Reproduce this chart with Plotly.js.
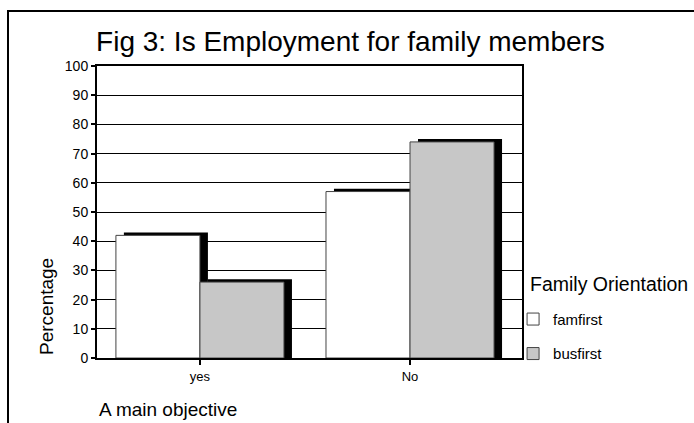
<!DOCTYPE html>
<html><head><meta charset="utf-8">
<script src="https://cdn.plot.ly/plotly-3.0.1.min.js"></script>
<style>
html,body{margin:0;padding:0;background:#fff;}
#wrap{position:relative;width:694px;height:423px;overflow:hidden;}
#frame{position:absolute;left:7px;top:10px;width:800px;height:600px;border-left:2px solid #000;border-top:2px solid #000;pointer-events:none;}
#chart{position:absolute;left:0;top:0;width:694px;height:423px;}
</style></head>
<body><div id="wrap"><div id="chart"></div><div id="frame"></div></div>
<script>
const categories = ['yes', 'No'];
const famfirst = [42, 57];
const busfirst = [26, 74];
const seriesNames = ['famfirst', 'busfirst'];
const yTicks = [0,10,20,30,40,50,60,70,80,90,100];

const F = 'Liberation Sans, Arial, sans-serif';
const barW = 0.4, shOff = 0.038, shLift = 1;
const lineStyle = {color:'#444', width:1};

const shadow = (vals, off) => ({
  type:'bar', x:categories, y:vals.map(v=>v+shLift), width:barW, offset:off+shOff,
  marker:{color:'#000', line:{width:0}}, showlegend:false, hoverinfo:'skip'
});
const traces = [
  shadow(famfirst, -barW),
  shadow(busfirst, 0),
  {type:'bar', name:seriesNames[0], x:categories, y:famfirst, width:barW, offset:-barW,
   marker:{color:'#fff', line:lineStyle}, legendgroup:'a'},
  {type:'bar', name:seriesNames[1], x:categories, y:busfirst, width:barW, offset:0,
   marker:{color:'#fff', line:lineStyle, pattern:{shape:'.', fgcolor:'#808080', bgcolor:'#fff', size:2, solidity:0.5}}, legendgroup:'b'}
];

const layout = {
  width:694, height:423,
  margin:{l:97, r:172, t:66, b:65},
  paper_bgcolor:'#fff', plot_bgcolor:'#fff',
  barmode:'overlay',
  font:{family:F, color:'#000', size:13},
  title:{text:'Fig 3: Is Employment for family members', font:{family:F, size:28, color:'#000'},
         x:0.505, xref:'container', xanchor:'center', y:0.903, yref:'container', yanchor:'middle'},
  xaxis:{type:'category', range:[-0.49, 1.533], showline:true, linecolor:'#000', linewidth:2,
         mirror:true, ticks:'outside', ticklen:5, tickcolor:'#000', tickwidth:2,
         showgrid:false, tickfont:{family:F, size:13}, fixedrange:true},
  yaxis:{range:[0,100], tickvals:yTicks, ticktext:yTicks.map(String), showline:true, linecolor:'#000', linewidth:2,
         mirror:true, ticks:'outside', ticklen:4, tickcolor:'#000', tickwidth:2,
         showgrid:true, gridcolor:'#000', gridwidth:1, zeroline:false,
         tickfont:{family:F, size:14}, fixedrange:true},
  showlegend:true,
  legend:{x:0.979, xanchor:'left', y:0.189, yanchor:'top', xref:'paper', yref:'paper',
          font:{family:F, size:15}, tracegroupgap:12, bgcolor:'rgba(0,0,0,0)', itemwidth:30},
  annotations:[
    {text:'Family Orientation', xref:'paper', yref:'paper', x:1.0141, y:0.2534, xanchor:'left', yanchor:'middle',
     showarrow:false, font:{family:F, size:19.5}},
    {text:'Percentage', xref:'paper', yref:'paper', x:-0.1176, y:0.1747, textangle:-90,
     showarrow:false, font:{family:F, size:19}, xanchor:'center', yanchor:'middle'},
    {text:'A main objective', xref:'paper', yref:'paper', x:0, y:-0.178, xanchor:'left', yanchor:'middle',
     showarrow:false, font:{family:F, size:19}}
  ]
};
Plotly.newPlot('chart', traces, layout, {displayModeBar:false, staticPlot:true});
</script></body></html>
